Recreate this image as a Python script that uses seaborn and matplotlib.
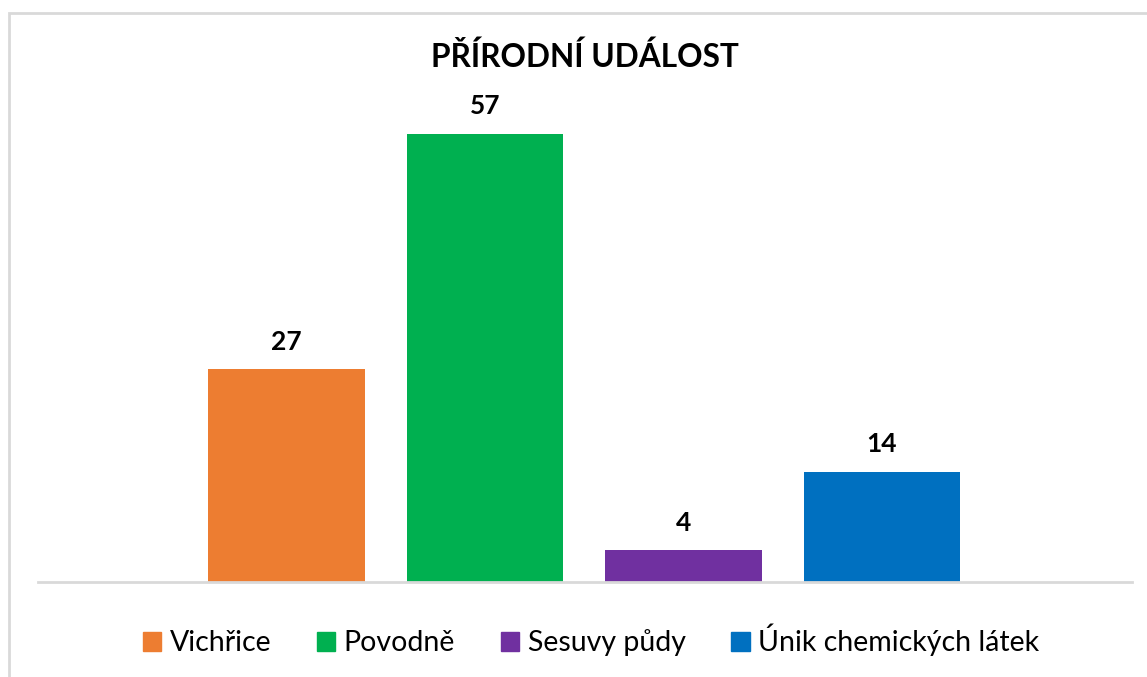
import matplotlib
matplotlib.use("Agg")
import matplotlib.pyplot as plt
import matplotlib.patches as mpatches
import seaborn as sns
import pandas as pd

# data
categories = ["Vichřice", "Povodně", "Sesuvy půdy", "Únik chemických látek"]
values = [27, 57, 4, 14]
colors = ["#ED7D31", "#00B050", "#7030A0", "#0070C0"]
title = "PŘÍRODNÍ UDÁLOST"

sns.set_style("white")
plt.rcParams["font.family"] = ["Lato", "DejaVu Sans"]
plt.rcParams["text.color"] = "black"

df = pd.DataFrame({"kategorie": categories, "pocet": values})

fig = plt.figure(figsize=(11.47, 6.77), dpi=100)
ax = fig.add_axes([38 / 1147, 1 - 581.5 / 677, 1094 / 1147, (581.5 - 85) / 677])

sns.barplot(data=df, x="kategorie", y="pocet", hue="kategorie",
            palette=colors, saturation=1, width=0.79, dodge=False,
            legend=False, linewidth=0, ax=ax)

ax.set_xlim(-1.252, 4.26)
ax.set_ylim(0, 63.2)
for c in ax.containers:
    ax.bar_label(c, padding=11, fontsize=19, fontweight="bold", color="black")

for s in ["top", "right", "left"]:
    ax.spines[s].set_visible(False)
ax.spines["bottom"].set_color("#d9d9d9")
ax.spines["bottom"].set_linewidth(2)
ax.set_xticks([])
ax.set_yticks([])
ax.set_xlabel("")
ax.set_ylabel("")

fig.text(585 / 1147, 1 - 57 / 677, title, ha="center", va="center",
         fontsize=22.8, fontweight="bold", color="black")

handles = [mpatches.Patch(color=c, label=l) for c, l in zip(colors, categories)]
fig.legend(handles=handles, loc="center", bbox_to_anchor=(591 / 1147, 1 - 640 / 677),
           ncol=4, frameon=False, fontsize=20.5, handlelength=0.65, handleheight=0.65,
           handletextpad=0.3, columnspacing=1.6, labelcolor="black")

# outer chart frame
fig.patches.append(mpatches.Rectangle((9 / 1147, -0.1), 1.2, 1.1 - 13 / 677,
                                      transform=fig.transFigure, fill=False,
                                      edgecolor="#d9d9d9", linewidth=2))

fig.savefig("out.png", dpi=100)
